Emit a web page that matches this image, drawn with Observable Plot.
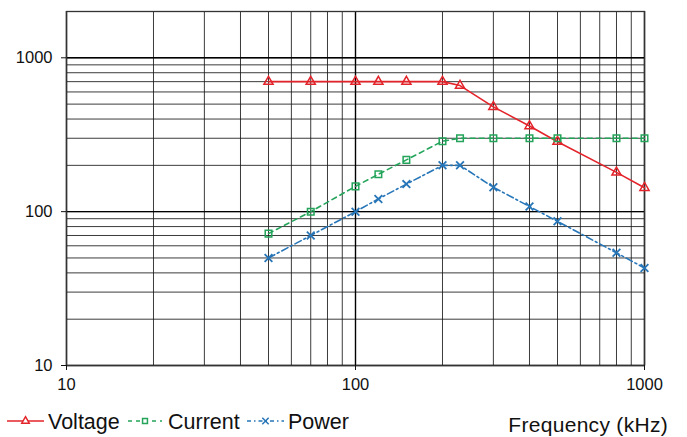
<!DOCTYPE html>
<html><head><meta charset="utf-8">
<script src="https://cdn.jsdelivr.net/npm/d3@7"></script>
<script src="https://cdn.jsdelivr.net/npm/@observablehq/plot@0.6"></script>
<style>
body{margin:0;background:#fff;font-family:"Liberation Sans",Arial,sans-serif;}
#wrap{position:relative;width:687px;height:437px;overflow:hidden;}
#chart svg{display:block;}
</style></head><body>
<div id="wrap"><div id="chart"></div><div id="legend"></div></div>
<script>
const freq = [50, 70, 100, 120, 150, 200, 230, 300, 400, 500, 800, 1000];
const voltage = [700, 700, 700, 700, 700, 700, 660, 480, 360, 285, 180, 143];
const current = [72, 100, 146, 175, 217, 287, 300, 300, 300, 300, 300, 300];
const power = [50, 70, 100, 121, 151, 200, 200, 144, 108, 86.5, 54, 43];
const xTicks = [10, 100, 1000];
const yTicks = [10, 100, 1000];
const xGrid = [10, 20, 30, 40, 50, 60, 70, 80, 90, 100, 200, 300, 400, 500, 600, 700, 800, 900, 1000];
const yGrid = [10, 20, 30, 40, 50, 60, 70, 80, 90, 100, 200, 300, 400, 500, 600, 700, 800, 900, 1000];
const seriesNames = ["Voltage", "Current", "Power"];
const colors = {Voltage: "#e3242b", Current: "#23a45a", Power: "#2776b8"};

const rows = [];
freq.forEach((f, i) => {
  rows.push({f, v: voltage[i], s: "Voltage"});
  rows.push({f, v: current[i], s: "Current"});
  rows.push({f, v: power[i], s: "Power"});
});
const sub = s => rows.filter(d => d.s === s);

const chart = Plot.plot({
  width: 687, height: 400,
  marginTop: 11, marginBottom: 35, marginLeft: 66, marginRight: 43,
  style: {fontFamily: "Liberation Sans, Arial, sans-serif", fontSize: "16.5px", color: "#111", background: "#fff"},
  x: {type: "log", domain: [10, 1000]},
  y: {type: "log", domain: [10, 2000]},
  marks: [
    Plot.ruleX(xGrid, {x: d => d, stroke: "#1a1a1a", strokeWidth: 1, strokeOpacity: 0.85}),
    Plot.ruleY(yGrid, {y: d => d, stroke: "#1a1a1a", strokeWidth: 1, strokeOpacity: 0.85}),
    Plot.ruleX(xTicks, {x: d => d, stroke: "#000", strokeWidth: 1.4}),
    Plot.ruleY(yTicks, {y: d => d, stroke: "#000", strokeWidth: 1.4}),
    Plot.frame({stroke: "#333", strokeWidth: 1.3}),
    Plot.axisX({ticks: xTicks, tickFormat: d => String(d), tickSize: 5, tickPadding: 8, label: null, fontSize: 16.5}),
    Plot.axisY({ticks: yTicks, tickFormat: d => String(d), tickSize: 5, tickPadding: 9, label: null, fontSize: 16.5}),
    Plot.line(sub("Voltage"), {x: "f", y: "v", stroke: colors.Voltage, strokeWidth: 1.6}),
    Plot.line(sub("Current"), {x: "f", y: "v", stroke: colors.Current, strokeWidth: 1.6, strokeDasharray: "5,4"}),
    Plot.line(sub("Power"), {x: "f", y: "v", stroke: colors.Power, strokeWidth: 1.6, strokeDasharray: "7,3,2,3"}),
    Plot.dot(sub("Voltage"), {x: "f", y: "v", symbol: "triangle", r: 3.4, stroke: colors.Voltage, fill: "none", strokeWidth: 1.5}),
    Plot.dot(sub("Current"), {x: "f", y: "v", symbol: "square", r: 3.7, stroke: colors.Current, fill: "none", strokeWidth: 1.5}),
    Plot.dot(sub("Power"), {x: "f", y: "v", symbol: "times", r: 3.6, stroke: colors.Power, strokeWidth: 1.8})
  ]
});
document.getElementById("chart").appendChild(chart);

// legend below the plot
const lg = d3.select("#legend").append("svg").attr("width", 687).attr("height", 37)
  .style("display", "block").style("font-family", "Liberation Sans, Arial, sans-serif");
const items = [
  {name: "Voltage", x0: 7, x1: 44, tx: 48, dash: null, sym: d3.symbolTriangle},
  {name: "Current", x0: 128, x1: 162, tx: 168, dash: "4,4", sym: d3.symbolSquare},
  {name: "Power", x0: 247, x1: 284, tx: 288, dash: "4,3,1.5,3", sym: d3.symbolTimes}
];
items.forEach(it => {
  const c = colors[it.name];
  const cy = 21;
  lg.append("line").attr("x1", it.x0).attr("x2", it.x1).attr("y1", cy).attr("y2", cy)
    .attr("stroke", c).attr("stroke-width", 1.6).attr("stroke-dasharray", it.dash);
  const cx = (it.x0 + it.x1) / 2;
  lg.append("path").attr("d", d3.symbol(it.sym, it.sym === d3.symbolTimes ? 28 : 24)())
    .attr("transform", `translate(${cx},${cy})`)
    .attr("fill", it.sym === d3.symbolTimes ? "none" : "#fff").attr("stroke", c).attr("stroke-width", 1.5);
  lg.append("text").attr("x", it.tx).attr("y", 29).attr("font-size", 21.5).attr("fill", "#111").text(it.name);
});
lg.append("text").attr("x", 668).attr("y", 32).attr("text-anchor", "end").attr("font-size", 21)
  .attr("fill", "#111").attr("letter-spacing", "0.3").text("Frequency (kHz)");
</script>
</body></html>
